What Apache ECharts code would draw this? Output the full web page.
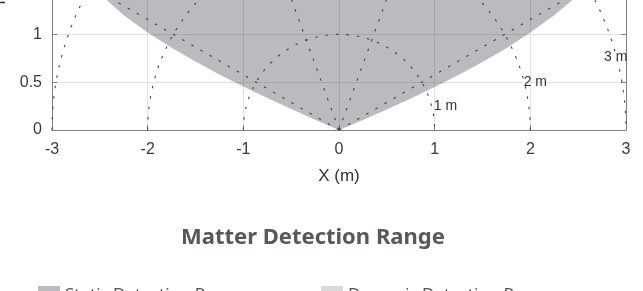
<!DOCTYPE html>
<html>
<head>
<meta charset="utf-8">
<script src="https://cdn.jsdelivr.net/npm/echarts@6/dist/echarts.min.js"></script>
<style>
    html, body { margin: 0; padding: 0; background: #fff; }
    #main { width: 643px; height: 291px; }
</style>
</head>
<body>
<div id="main"></div>
<script>
// boundary of the static detection area (m); the two end points sit above the visible crop
const boundaryX = [-2.6, -2.43, -2.25, -2.0, -1.75, -1.5, -1.25, -1.0, -0.75, -0.5, -0.25, 0,
    0.25, 0.5, 0.75, 1.0, 1.25, 1.5, 1.75, 2.0, 2.25, 2.44, 2.6]
const boundaryY = [1.5, 1.36, 1.2, 1.02, 0.86, 0.715, 0.58, 0.455, 0.335, 0.22, 0.108, 0,
    0.105, 0.215, 0.33, 0.45, 0.575, 0.71, 0.855, 1.02, 1.2, 1.36, 1.5]

// range rings and spokes of the polar guide
const rings = [1, 2, 3]
const ringLabels = ['1 m', '2 m', '3 m']
const ringLabelX = [0.99, 1.93, 2.77]
const ringLabelY = [0.25, 0.50, 0.765]
const spokeAngles = [30, 70, 110, 150]

const xTicks = [-3, -2, -1, 0, 1, 2, 3]

const tickFont = 'Liberation Sans, Arial, sans-serif'
const dotted = { stroke: '#444', lineWidth: 1.1, lineDash: [2.5, 8], fill: null }

const option = {
    animation: false,
    title: {
        text: 'Matter Detection Range',
        left: 176,
        top: 222,
        textStyle: { fontFamily: 'Noto Sans', fontSize: 22, fontWeight: 'bold', color: '#55585e' }
    },
    legend: [
        {
            data: ['Static Detection Range'],
            left: 33,
            bottom: -18,
            icon: 'rect',
            itemWidth: 22,
            itemHeight: 18,
            textStyle: { fontFamily: 'Noto Sans', fontSize: 17, color: '#555' }
        },
        {
            data: ['Dynamic Detection Range'],
            left: 316,
            bottom: -18,
            icon: 'rect',
            itemWidth: 22,
            itemHeight: 18,
            textStyle: { fontFamily: 'Noto Sans', fontSize: 17, color: '#555' }
        }
    ],
    grid: {
        left: 52,
        right: 17,
        top: -157,
        bottom: 161,
        outerBoundsMode: 'none',
        containLabel: false
    },
    xAxis: {
        type: 'value',
        min: xTicks[0],
        max: xTicks[xTicks.length - 1],
        interval: 1,
        name: 'X (m)',
        nameLocation: 'middle',
        nameGap: 38,
        nameTextStyle: { fontFamily: tickFont, fontSize: 17, color: '#333' },
        axisLine: { show: true, onZero: false, lineStyle: { color: '#808080' } },
        axisTick: { inside: true, length: 5, lineStyle: { color: '#808080' } },
        axisLabel: { margin: 12, fontFamily: tickFont, fontSize: 16, color: '#3a3a3a' },
        splitLine: { show: true, lineStyle: { color: '#e2e2e2' } }
    },
    yAxis: [
        {
            type: 'value',
            min: 0,
            max: 3,
            interval: 0.5,
            name: 'Y (m)',
            nameLocation: 'middle',
            nameGap: 35,
            nameTextStyle: { fontFamily: tickFont, fontSize: 18, color: '#333' },
            axisLine: { show: true, onZero: false, lineStyle: { color: '#808080' } },
            axisTick: { show: true, inside: true, length: 5, lineStyle: { color: '#808080' } },
            axisLabel: { margin: 10, fontFamily: tickFont, fontSize: 16, color: '#3a3a3a' },
            splitLine: { show: true, lineStyle: { color: '#e2e2e2' } }
        },
        {
            type: 'value',
            position: 'right',
            min: 0,
            max: 3,
            interval: 0.5,
            axisLine: { show: true, onZero: false, lineStyle: { color: '#808080' } },
            axisTick: { show: true, inside: true, length: 5, lineStyle: { color: '#808080' } },
            axisLabel: { show: false },
            splitLine: { show: false }
        }
    ],
    series: [
        {
            name: 'Static Detection Range',
            type: 'custom',
            itemStyle: { color: 'rgba(40, 40, 55, 0.32)' },
            data: [0],
            renderItem: function (params, api) {
                const points = boundaryX.map(function (x, i) { return api.coord([x, boundaryY[i]]) })
                return {
                    type: 'polygon',
                    shape: { points: points },
                    style: { fill: 'rgba(40, 40, 55, 0.32)' }
                }
            }
        },
        {
            name: 'Dynamic Detection Range',
            type: 'custom',
            itemStyle: { color: '#d9d9d9' },
            data: [],
            renderItem: function () { return null }
        },
        {
            // dotted range rings
            type: 'custom',
            silent: true,
            data: rings,
            renderItem: function (params, api) {
                const r = api.value(0)
                const c = api.coord([0, 0])
                const rr = api.size([r, 0])[0]
                return {
                    type: 'arc',
                    shape: { cx: c[0], cy: c[1], r: rr, startAngle: Math.PI, endAngle: Math.PI * 2 },
                    style: dotted
                }
            }
        },
        {
            // dotted spokes from the sensor
            type: 'custom',
            silent: true,
            data: spokeAngles,
            renderItem: function (params, api) {
                const a = api.value(0) * Math.PI / 180
                const R = rings[rings.length - 1]
                const p0 = api.coord([0, 0])
                const p1 = api.coord([R * Math.cos(a), R * Math.sin(a)])
                return {
                    type: 'line',
                    shape: { x1: p0[0], y1: p0[1], x2: p1[0], y2: p1[1] },
                    style: dotted
                }
            }
        },
        {
            // ring labels
            type: 'custom',
            silent: true,
            data: ringLabels.map(function (t, i) { return [ringLabelX[i], ringLabelY[i], t] }),
            renderItem: function (params, api) {
                const p = api.coord([api.value(0), api.value(1)])
                return {
                    type: 'text',
                    x: p[0],
                    y: p[1],
                    style: {
                        text: ringLabels[params.dataIndex],
                        fontFamily: tickFont,
                        fontSize: 14,
                        fill: '#333',
                        align: 'left',
                        verticalAlign: 'middle'
                    }
                }
            }
        }
    ]
}

const myChart = echarts.init(document.getElementById('main'))
myChart.setOption(option)
</script>
</body>
</html>
